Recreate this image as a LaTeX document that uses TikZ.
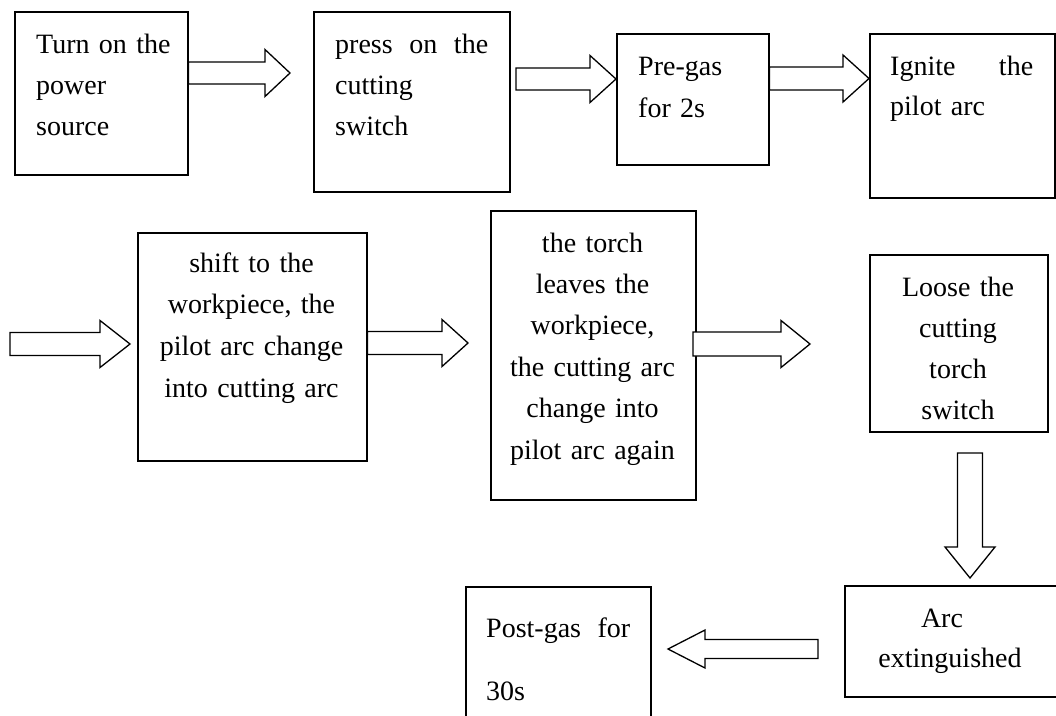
\documentclass[tikz,border=0pt]{standalone}
\usepackage{fontspec}
\setmainfont{Liberation Serif}
\usetikzlibrary{calc}
\tikzset{
  box/.style={draw, line width=1.5pt, rectangle, inner sep=0pt, anchor=north west},
  txt/.style={inner sep=0pt, font=\fontsize{28}{41.5}\selectfont},
  blockarr/.style={draw, line width=1.3pt, fill=white, line join=miter},
}
% #1 start, #2 tip, #3 shaft half width, #4 head half width, #5 head length
\newcommand\blockarrow[5]{%
  \coordinate (ba-c) at ($(#2)!#5!(#1)$);
  \draw[blockarr] ($(#1)!#3!90:(#2)$) -- ($(ba-c)!#3!90:(#2)$) -- ($(ba-c)!#4!90:(#2)$) -- (#2)
    -- ($(ba-c)!#4!-90:(#2)$) -- ($(ba-c)!#3!-90:(#2)$) -- ($(#1)!#3!-90:(#2)$) -- cycle;}
\begin{document}
\begin{tikzpicture}[x=1pt,y=-1pt]
\useasboundingbox (0,0) rectangle (1056,715);
\clip (0,0) rectangle (1056,715);
% boxes
\node[box, minimum width=173pt, minimum height=163pt] (b1) at (14,11) {};
\node[box, minimum width=196pt, minimum height=180pt] (b2) at (313,11) {};
\node[box, minimum width=152pt, minimum height=131pt] (b3) at (616,33) {};
\node[box, minimum width=185pt, minimum height=164pt] (b4) at (869,33) {};
\node[box, minimum width=229pt, minimum height=228pt] (b5) at (137,232) {};
\node[box, minimum width=205pt, minimum height=289pt] (b6) at (490,210) {};
\node[box, minimum width=178pt, minimum height=177pt] (b7) at (869,254) {};
\node[box, minimum width=240pt, minimum height=111pt] (b8) at (844,585) {};
\node[box, minimum width=185pt, minimum height=160pt] (b9) at (465,586) {};
% texts
\node[txt, anchor=base west, text width=170pt, align=left, font=\fontsize{28}{41}\selectfont] (t1) at (36,53) {Turn on the\\power\\source};
\node[txt, anchor=base west, text width=170pt, align=left, font=\fontsize{28}{41}\selectfont] (t2) at (335,53) {\hbox to 153pt{press\hfill on\hfill the}\\cutting\\switch};
\node[txt, anchor=base west, text width=130pt, align=left, font=\fontsize{28}{42}\selectfont] (t3) at (638,75) {Pre-gas\\for 2s};
\node[txt, anchor=base west, text width=160pt, align=left, font=\fontsize{28}{40}\selectfont] (t4) at (890,75) {\hbox to 143pt{Ignite\hfill the}\\pilot arc};
\node[txt, anchor=base, text width=229pt, align=center, font=\fontsize{28}{41.7}\selectfont] (t5) at (251.5,272) {shift to the\\workpiece, the\\pilot arc change\\into cutting arc};
\node[txt, anchor=base, text width=205pt, align=center, font=\fontsize{28}{41.4}\selectfont] (t6) at (592.5,252) {the torch\\leaves the\\workpiece,\\the cutting arc\\change into\\pilot arc again};
\node[txt, anchor=base, text width=178pt, align=center, font=\fontsize{28}{41.3}\selectfont] (t7) at (958,296) {Loose the\\cutting\\torch\\switch};
\node[txt, anchor=base, text width=200pt, align=center, font=\fontsize{28}{40}\selectfont] (t8) at (950,627) {Arc\makebox[16pt]{}\\extinguished};
\node[txt, anchor=base west, text width=170pt, align=left, font=\fontsize{28}{63}\selectfont] (t9) at (486,637) {\hbox to 144pt{Post-gas\hfill for}\\30s};
% arrow end points
\coordinate (a1s) at (b1.east |- 0,73);  \coordinate (a1e) at (290,73);
\coordinate (a2s) at (516,79);           \coordinate (a2e) at (b3.west |- 0,79);
\coordinate (a3s) at (b3.east |- 0,78.5);\coordinate (a3e) at (b4.west |- 0,78.5);
\coordinate (a4s) at (10,344);           \coordinate (a4e) at (130,344);
\coordinate (a5s) at (b5.east |- 0,343); \coordinate (a5e) at (468,343);
\coordinate (a6s) at (693,344);          \coordinate (a6e) at (810,344);
\coordinate (a7s) at (970,453);          \coordinate (a7e) at (970,578);
\coordinate (a8s) at (818,649);          \coordinate (a8e) at (668,649);
% arrows
\blockarrow{a1s}{a1e}{11pt}{23.5pt}{25pt}
\blockarrow{a2s}{a2e}{11pt}{23.5pt}{26pt}
\blockarrow{a3s}{a3e}{11.5pt}{23.5pt}{26pt}
\blockarrow{a4s}{a4e}{11.5pt}{23.5pt}{30pt}
\blockarrow{a5s}{a5e}{11.5pt}{23.5pt}{26pt}
\blockarrow{a6s}{a6e}{12pt}{23.5pt}{29pt}
\blockarrow{a7s}{a7e}{12.5pt}{25pt}{31pt}
\blockarrow{a8s}{a8e}{9.5pt}{19pt}{37pt}
\end{tikzpicture}
\end{document}
